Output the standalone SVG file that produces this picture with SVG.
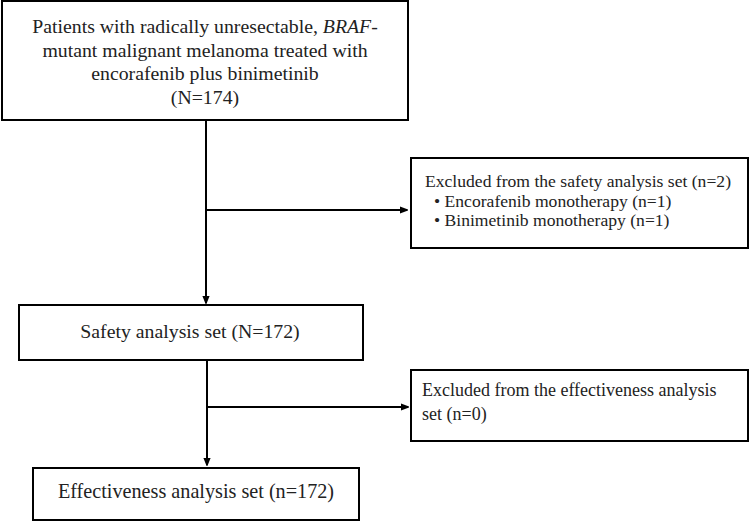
<svg xmlns="http://www.w3.org/2000/svg" width="749" height="521" viewBox="0 0 749 521">
<style>
.box{fill:#fff;stroke:#000;stroke-width:2}
.t{font-family:"Liberation Serif","Times New Roman",serif;fill:#222}
.c{text-anchor:middle}
.l{fill:none;stroke:#000;stroke-width:2}
</style>
<defs>
<marker id="ah" markerWidth="8" markerHeight="8" refX="7" refY="4" orient="auto" markerUnits="userSpaceOnUse"><path d="M0,0 L8,4 L0,8 Z" fill="#000" transform="translate(-1,0) scale(1.25,1)"/></marker>
</defs>
<rect width="749" height="521" fill="#fff"/>
<g id="connectors">
<line class="l" x1="206" y1="120" x2="206" y2="303" marker-end="url(#ah)"/>
<line class="l" x1="206" y1="210" x2="407" y2="210" marker-end="url(#ah)"/>
<line class="l" x1="207" y1="361" x2="207" y2="465" marker-end="url(#ah)"/>
<line class="l" x1="207" y1="407" x2="408" y2="407" marker-end="url(#ah)"/>
</g>
<g id="n1">
<rect class="box" x="2" y="1" width="406" height="119"/>
<text class="t c" font-size="19.8"><tspan x="205" y="33">Patients with radically unresectable, <tspan font-style="italic">BRAF</tspan>-</tspan><tspan x="205" y="56.5">mutant malignant melanoma treated with</tspan><tspan x="205" y="80">encorafenib plus binimetinib</tspan><tspan x="205" y="103.5">(N=174)</tspan></text>
</g>
<g id="n2">
<rect class="box" x="411" y="158" width="337" height="90"/>
<text class="t" font-size="17.6"><tspan x="425" y="187">Excluded from the safety analysis set (n=2)</tspan><tspan x="434" y="206.5">• Encorafenib monotherapy (n=1)</tspan><tspan x="434" y="226">• Binimetinib monotherapy (n=1)</tspan></text>
</g>
<g id="n3">
<rect class="box" x="19" y="305" width="344" height="55"/>
<text class="t c" font-size="19.8" x="190" y="338">Safety analysis set (N=172)</text>
</g>
<g id="n4">
<rect class="box" x="411" y="370" width="337" height="71"/>
<text class="t" font-size="18" x="422" y="396"><tspan x="422" y="396">Excluded from the effectiveness analysis</tspan><tspan x="422" y="420">set (n=0)</tspan></text>
</g>
<g id="n5">
<rect class="box" x="33" y="468" width="326" height="52"/>
<text class="t c" font-size="20.2" x="196" y="498">Effectiveness analysis set (n=172)</text>
</g>
</svg>
